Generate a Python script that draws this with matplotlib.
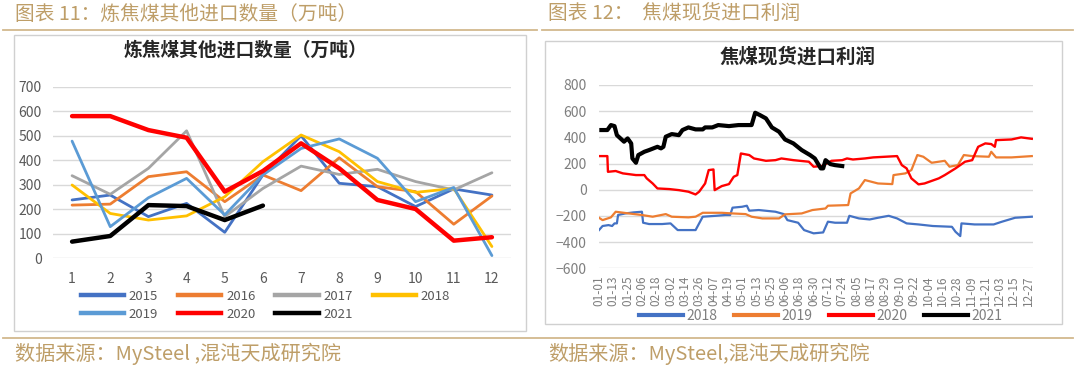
import matplotlib
matplotlib.use("Agg")
import matplotlib.pyplot as plt
from matplotlib.patches import Rectangle
from matplotlib.lines import Line2D

plt.rcParams['font.family'] = ['Noto Sans CJK SC', 'DejaVu Sans']

W, H = 1080, 372

# ---------------- data: left chart (monthly, 万吨) ----------------
months = [1, 2, 3, 4, 5, 6, 7, 8, 9, 10, 11, 12]
month_labels = ["1", "2", "3", "4", "5", "6", "7", "8", "9", "10", "11", "12"]
v2015 = [238, 258, 170, 224, 106, 340, 500, 306, 292, 211, 283, 258]
v2016 = [217, 221, 333, 353, 231, 340, 276, 410, 292, 272, 139, 254]
v2017 = [337, 261, 367, 520, 170, 285, 376, 342, 363, 313, 279, 349]
v2018 = [299, 183, 156, 173, 251, 394, 503, 435, 313, 269, 285, 48]
v2019 = [478, 129, 247, 326, 177, 340, 448, 487, 408, 231, 289, 11]
v2020 = [580, 580, 523, 492, 272, 356, 469, 367, 238, 201, 72, 86]
v2021 = [68, 91, 217, 213, 156, 215]

# ---------------- data: right chart (daily profit, 元/吨) ----------------
date_labels = ["01-01", "01-13", "01-25", "02-06", "02-18", "03-02", "03-14", "03-26",
               "04-07", "04-19", "05-01", "05-13", "05-25", "06-06", "06-18", "06-30",
               "07-12", "07-24", "08-05", "08-17", "08-29", "09-10", "09-22", "10-04",
               "10-16", "10-28", "11-09", "11-21", "12-03", "12-15", "12-27"]
date_tick_days = [0, 12, 24, 36, 48, 60, 72, 84, 96, 108, 120, 132, 144, 156, 168, 180,
                  192, 204, 216, 228, 240, 252, 264, 276, 288, 300, 312, 324, 336, 348, 360]

p2018_day = [0, 3, 8, 11, 13, 15, 16, 22, 29, 36, 37, 42, 53, 60, 66, 81, 84, 87, 98, 106,
             110, 112, 120, 124, 126, 134, 148, 155, 158, 167, 172, 180, 188, 192, 198, 208,
             210, 218, 227, 234, 243, 250, 258, 268, 280, 296, 299, 303, 304, 315, 331, 338,
             349, 363]
p2018_val = [-308, -277, -270, -277, -257, -257, -193, -181, -173, -168, -252, -262, -262,
             -257, -308, -308, -257, -206, -199, -193, -193, -137, -130, -122, -160, -155,
             -168, -186, -232, -252, -308, -333, -326, -244, -252, -252, -199, -219, -227,
             -214, -199, -219, -257, -265, -277, -283, -321, -354, -257, -265, -265, -244,
             -214, -206]

p2019_day = [0, 3, 10, 14, 25, 36, 45, 56, 61, 75, 81, 87, 103, 112, 123, 128, 137, 151,
             156, 170, 179, 190, 192, 209, 211, 218, 223, 234, 246, 247, 257, 262, 267, 272,
             279, 290, 294, 301, 306, 313, 327, 329, 333, 346, 363]
p2019_val = [-214, -232, -211, -168, -181, -193, -206, -186, -206, -211, -206, -176, -176,
             -181, -186, -206, -219, -219, -188, -181, -155, -143, -122, -117, -28, 10, 74,
             48, 43, 112, 125, 150, 265, 252, 206, 221, 176, 188, 265, 257, 252, 290, 247,
             247, 257]

p2020_day = [0, 7, 7.5, 14, 20, 31, 38, 40, 45, 49, 59, 67, 75, 81, 84, 89, 92, 96, 97,
             103, 109, 113, 116, 119, 126, 130, 140, 148, 153, 163, 176, 180, 187, 195, 204,
             208, 213, 223, 230, 240, 250, 254, 258, 262, 268, 273, 285, 290, 299, 307, 313,
             318, 324, 329, 332, 333, 346, 354, 363]
p2020_val = [257, 257, 137, 143, 125, 112, 112, 87, 48, 10, 5, -3, -15, -36, -15, 48, 150,
             155, -3, 28, 43, 99, 112, 277, 265, 239, 221, 226, 239, 226, 214, 176, 181, 221,
             226, 239, 231, 239, 247, 252, 257, 188, 163, 87, 41, 48, 87, 112, 163, 214, 226,
             328, 354, 349, 328, 379, 384, 400, 389]

p2021_day = [2, 7, 10, 13, 15, 21, 24, 27, 28, 31, 33, 38, 42, 49, 52, 54, 56, 61, 67, 70,
             75, 81, 87, 89, 95, 100, 109, 117, 128, 131, 135, 140, 145, 151, 156, 163, 170,
             177, 181, 186, 188, 190, 194, 198, 204]
p2021_val = [456, 456, 494, 486, 417, 367, 392, 354, 239, 206, 265, 290, 303, 328, 316, 328,
             405, 425, 417, 456, 476, 461, 461, 476, 476, 494, 486, 494, 494, 588, 570, 545,
             476, 443, 384, 354, 303, 265, 239, 163, 163, 226, 196, 188, 181]

# ---------------- figure ----------------
fig = plt.figure(figsize=(W / 100, H / 100), dpi=100)

GOLD = '#BE9E68'
GOLD_LINE = '#D2B98E'
GRID = '#D9D9D9'
TICK = '#595959'


def px_rect(x0, y0, x1, y1):
    return [x0 / W, 1 - y1 / H, (x1 - x0) / W, (y1 - y0) / H]


def fx(x):
    return x / W


def fy(y):
    return 1 - y / H


# headers and rules
fig.text(fx(15), fy(14), "图表 11：炼焦煤其他进口数量（万吨）", color=GOLD, fontsize=14.2,
         va='center', ha='left')
fig.text(fx(548), fy(14), "图表 12：  焦煤现货进口利润", color=GOLD, fontsize=14.2,
         va='center', ha='left')
fig.add_artist(Line2D([fx(3), fx(537)], [fy(30), fy(30)], color=GOLD_LINE, lw=1.3))
fig.add_artist(Line2D([fx(542), fx(1073)], [fy(30), fy(30)], color=GOLD_LINE, lw=1.3))
fig.add_artist(Line2D([fx(3), fx(1073)], [fy(337.5), fy(337.5)], color=GOLD_LINE, lw=1.3))
fig.text(fx(15), fy(354), "数据来源：MySteel ,混沌天成研究院", color=GOLD, fontsize=14.5,
         va='center', ha='left')
fig.text(fx(548), fy(354), "数据来源：MySteel,混沌天成研究院", color=GOLD, fontsize=14.5,
         va='center', ha='left')

# panel boxes
fig.add_artist(Rectangle((fx(14), fy(331)), (526 - 14) / W, (331 - 35) / H,
                         fill=False, edgecolor='#D0D0D0', lw=1))
fig.add_artist(Rectangle((fx(545), fy(324)), (1062 - 545) / W, (324 - 41) / H,
                         fill=False, edgecolor='#D0D0D0', lw=1))

# ---------------- left chart ----------------
ax1 = fig.add_axes(px_rect(53, 86.7, 511, 258.3))
ax1.set_xlim(0.5, 12.5)
ax1.set_ylim(0, 700)
ax1.set_yticks([0, 100, 200, 300, 400, 500, 600, 700])
ax1.set_xticks(months)
ax1.set_xticklabels(month_labels)
ax1.grid(axis='y', color=GRID, lw=1)
ax1.set_axisbelow(True)
for s in ax1.spines.values():
    s.set_visible(False)
ax1.tick_params(length=0, labelsize=10, colors=TICK)
ax1.tick_params(axis='y', pad=8)
ax1.tick_params(axis='x', pad=10)

left_series = [
    ("2015", v2015, '#4472C4', 2.0),
    ("2016", v2016, '#ED7D31', 2.0),
    ("2017", v2017, '#A5A5A5', 2.0),
    ("2018", v2018, '#FFC000', 2.0),
    ("2019", v2019, '#5B9BD5', 2.0),
    ("2020", v2020, '#FF0000', 3.2),
    ("2021", v2021, '#000000', 3.2),
]
for name, vals, col, lw in left_series:
    ax1.plot(months[:len(vals)], vals, color=col, lw=lw, label=name,
             solid_capstyle='round', solid_joinstyle='round')

# legend laid out row by row (matplotlib fills columns first)
order = [0, 4, 1, 5, 2, 6, 3]
leg_handles = [Line2D([], [], color=left_series[i][2], lw=3.2) for i in order]
leg_labels = [left_series[i][0] for i in order]
fig.legend(leg_handles, leg_labels, ncol=4,
           loc='upper left', bbox_to_anchor=(fx(74), fy(283)), frameon=False,
           fontsize=9.5, handlelength=3.3, handletextpad=0.35, columnspacing=1.5,
           labelspacing=0.4, borderpad=0, labelcolor=TICK)

fig.text(fx(245), fy(50), "炼焦煤其他进口数量（万吨）", fontsize=13.5, fontweight='bold',
         ha='center', va='center', color='#262626')

# ---------------- right chart ----------------
ax2 = fig.add_axes(px_rect(599, 85, 1033, 268.3))
ax2.set_xlim(0, 364)
ax2.set_ylim(-600, 800)
ax2.set_yticks([-600, -400, -200, 0, 200, 400, 600, 800])
ax2.set_xticks(date_tick_days)
ax2.set_xticklabels(date_labels, rotation=90)
ax2.grid(axis='y', color=GRID, lw=1)
ax2.set_axisbelow(True)
for s in ax2.spines.values():
    s.set_visible(False)
ax2.tick_params(length=0, colors='#7F7F7F')
ax2.tick_params(axis='y', labelsize=10, pad=9)
ax2.tick_params(axis='x', labelsize=8.5, pad=5)

right_series = [
    ("2018", p2018_day, p2018_val, '#4472C4', 1.6),
    ("2019", p2019_day, p2019_val, '#ED7D31', 1.6),
    ("2020", p2020_day, p2020_val, '#FF0000', 1.7),
    ("2021", p2021_day, p2021_val, '#000000', 3.0),
]
for name, d, v, col, lw in right_series:
    ax2.plot(d, v, color=col, lw=lw, label=name, solid_joinstyle='round')

leg_handles2 = [Line2D([], [], color=c, lw=3.0) for _, _, _, c, _ in right_series]
fig.legend(leg_handles2, [n for n, *_ in right_series], ncol=4,
           loc='upper left', bbox_to_anchor=(fx(632), fy(302)), frameon=False,
           fontsize=10, handlelength=3.2, handletextpad=0.25, columnspacing=1.15,
           borderpad=0, labelcolor='#7F7F7F')

fig.text(fx(798), fy(57), "焦煤现货进口利润", fontsize=14, fontweight='bold',
         ha='center', va='center', color='#262626')

fig.savefig("out.png", dpi=100)
